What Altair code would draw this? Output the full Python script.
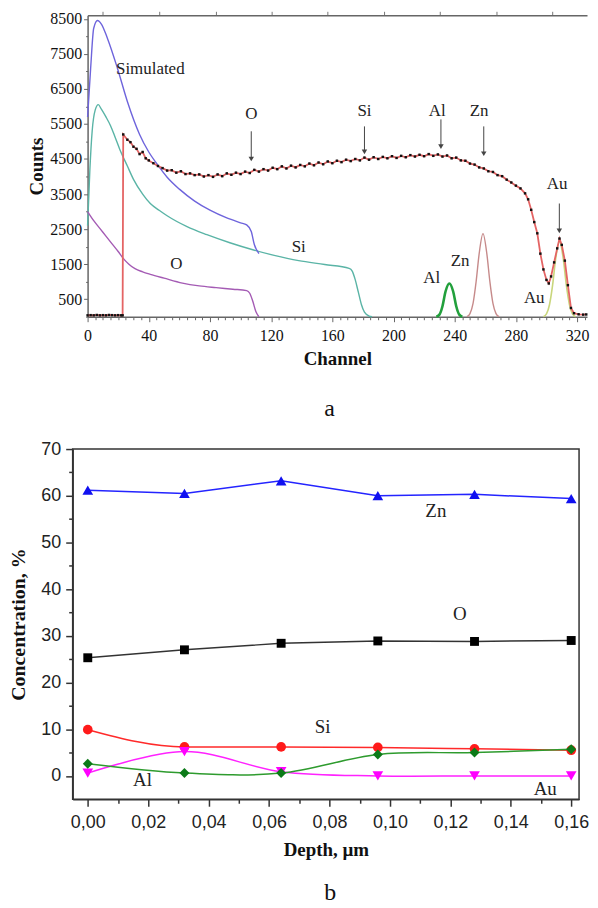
import altair as alt
import pandas as pd

# ---------------- panel a : RBS spectrum ----------------
exp_ch = [0, 2, 4, 6, 8, 10, 12, 14, 16, 18, 20, 22,
          22.9, 23.3,
          26, 28, 30, 32, 34, 36, 38, 40,
          43, 46, 49, 52, 55, 58, 61, 64, 67, 70,
          73, 76, 79, 82, 85, 88, 91, 94, 97, 100,
          103, 106, 109, 112, 115, 118, 121, 124, 127, 130,
          133, 136, 139, 142, 145, 148, 151, 154, 157, 160,
          163, 166, 169, 172, 175, 178, 181, 184, 187, 190,
          193, 196, 199, 202, 205, 208, 211, 214, 217, 220,
          223, 226, 229, 232, 235, 238, 241,
          244, 247, 250, 253, 256, 259, 262, 265, 268, 271, 274, 277, 280, 283, 286,
          288, 290, 292, 294, 296, 298, 300,
          301.5, 303, 305, 307, 308.5, 310, 312, 314, 316, 318,
          321, 324, 326]
exp_counts = [40, 45, 40, 50, 40, 45, 40, 50, 45, 40, 45, 40,
              40, 5200,
              5050, 4980, 4850, 4790, 4640, 4700, 4520, 4460,
              4380, 4300, 4240, 4170, 4180, 4110, 4150, 4070, 4090, 4040,
              4060, 4000, 4040, 3990, 4060, 4010, 4090, 4050, 4110, 4070,
              4140, 4100, 4190, 4140, 4210, 4170, 4250, 4210, 4290, 4230,
              4310, 4260, 4330, 4290, 4370, 4320, 4400, 4350, 4430, 4380,
              4450, 4410, 4480, 4440, 4500, 4460, 4540, 4480, 4550, 4500,
              4560, 4520, 4580, 4530, 4590, 4550, 4610, 4570, 4620, 4580,
              4640, 4590, 4630, 4570, 4600, 4520, 4540,
              4460, 4450, 4370, 4340, 4260, 4230, 4150, 4130, 4040, 4010, 3910, 3830, 3740, 3660, 3520,
              3350, 3050, 2700, 2380, 1800, 1350, 1050,
              950, 1150, 1550, 1950, 2230, 2050, 1600, 900, 250, 100,
              70, 60, 65]

sim_ch = [0, 2, 4, 6.5, 9, 13, 19.5, 26, 34, 40, 45, 52, 60, 70, 80, 91, 100, 104, 107, 109, 112]
sim_counts = [5700, 7090, 8230, 8450, 8350, 7940, 7090, 6140, 5200, 4700, 4380, 3980, 3640,
              3300, 3040, 2820, 2680, 2620, 2430, 2060, 1800]

si_ch = [0, 1.5, 3, 5, 7, 9, 12, 15, 18, 21, 26, 30, 36, 41, 47, 52, 65, 78, 93, 108,
         122, 138, 155, 171, 173, 175, 177, 179, 181, 184, 186]
si_counts = [2600, 4200, 5300, 5900, 6050, 5920, 5700, 5450, 5120, 4780, 4300, 3920, 3500,
             3230, 3030, 2880, 2570, 2340, 2110, 1910, 1750, 1600, 1490, 1380, 1300, 1050,
             700, 350, 130, 20, 0]

o_ch = [0, 4, 8, 12, 16, 20, 23, 27, 31, 36, 41, 50, 62, 73, 84, 95, 104, 106, 108, 110, 112]
o_counts = [3000, 2740, 2520, 2300, 2080, 1860, 1680, 1500, 1370, 1280, 1210, 1100, 960,
            880, 830, 785, 745, 670, 440, 150, 0]

al_ch = [228, 230, 232, 234, 236.5, 239, 241, 243, 245]
al_counts = [0, 60, 300, 720, 950, 720, 300, 60, 0]

zn_ch = [248, 250, 252, 254, 256, 258.5, 261, 263, 265, 267, 269]
zn_counts = [0, 90, 380, 1000, 1800, 2370, 1800, 1000, 380, 90, 0]

au_ch = [298, 300, 302, 304, 306, 308.5, 311, 313, 315, 317, 319]
au_counts = [0, 80, 350, 900, 1650, 2140, 1650, 900, 350, 80, 0]

lab_a_text = ["Simulated", "O", "Si", "Al", "Zn", "Au", "Si", "O", "Al", "Zn", "Au"]
lab_a_ch = [41, 107, 181, 228.6, 256, 307, 138, 58, 225, 243.5, 292]
lab_a_counts = [7060, 5780, 5860, 5860, 5860, 3800, 2000, 1510, 1090, 1600, 540]

arrow_ch = [107, 181, 231, 259, 308.4]
arrow_from = [5290, 5430, 5630, 5430, 3230]
arrow_to = [4500, 4700, 4850, 4650, 2450]

x_ticks_a = list(range(0, 326, 5))
y_ticks_a = list(range(0, 8501, 500))
top_ticks_a = [10, 47, 84, 120, 157, 194, 230, 267, 304]

# ---------------- panel b : depth profile ----------------
depth = [0.0, 0.032, 0.064, 0.096, 0.128, 0.16]
zn_conc = [61.2, 60.5, 63.2, 60.0, 60.3, 59.4]
o_conc = [25.3, 27.0, 28.4, 28.9, 28.8, 29.0]
si_conc = [9.9, 6.2, 6.2, 6.1, 5.8, 5.5]
al_conc = [2.6, 0.6, 0.6, 4.6, 5.0, 5.7]
au_conc = [0.6, 5.2, 0.9, 0.0, 0.0, 0.0]

lab_b_text = ["Zn", "O", "Si", "Al", "Au"]
lab_b_depth = [0.1152, 0.1231, 0.0777, 0.0181, 0.1514]
lab_b_conc = [56.8, 34.7, 10.4, -0.85, -2.8]

x_ticks_b = [i / 100 for i in range(0, 17)]
y_ticks_b = list(range(0, 71, 5))

SERIF = "Liberation Serif"
SANS = "Liberation Sans"

# ---------------- build panel a ----------------
xs_a = alt.Scale(domain=[0, 326.5], range=[15, 517], nice=False, zero=False)
ys_a = alt.Scale(domain=[0, 8600], nice=False)

xaxis_a = alt.Axis(
    values=x_ticks_a,
    labelExpr="datum.value % 40 === 0 ? datum.value : ''",
    tickSize={"condition": {"test": "datum.value % 40 === 0", "value": 5}, "value": 3},
    title="Channel", titleFont=SERIF, titleFontSize=19, titleFontWeight="bold",
    titleColor="#111", titlePadding=6,
    labelFont=SERIF, labelFontSize=16, labelColor="#111", labelPadding=6,
    labelFlush=False, labelOverlap=False,
    domainColor="#666", domainWidth=1.5, tickColor="#666", tickWidth=1, grid=False,
)
topaxis_a = alt.Axis(
    orient="top", values=top_ticks_a, labels=False, tickSize=4, title=None,
    domainColor="#666", domainWidth=1.5, tickColor="#777", tickWidth=1, grid=False,
)
yaxis_a = alt.Axis(
    values=y_ticks_a,
    labelExpr="datum.value % 1000 === 500 ? datum.value : ''",
    tickSize={"condition": {"test": "datum.value % 1000 === 500", "value": 4}, "value": 2},
    offset=-15,
    title="Counts", titleFont=SERIF, titleFontSize=19, titleFontWeight="bold",
    titleColor="#111", titlePadding=3,
    labelFont=SERIF, labelFontSize=16, labelColor="#111", labelPadding=2,
    labelOverlap=False,
    domainColor="#666", domainWidth=1.5, tickColor="#666", tickWidth=1, grid=False,
)


def enc_a(axis=None):
    return dict(
        x=alt.X("ch:Q", scale=xs_a, axis=axis),
        y=alt.Y("c:Q", scale=ys_a, axis=yaxis_a),
    )


def df_a(chs, cs):
    return pd.DataFrame({"ch": chs, "c": cs})


si_df = df_a(si_ch, si_counts)
l_si = alt.Chart(si_df).mark_line(color="#5ab4a6", strokeWidth=1.4, interpolate="monotone").encode(**enc_a(xaxis_a))
l_top = alt.Chart(si_df).mark_line(opacity=0).encode(**enc_a(topaxis_a))
l_sim = alt.Chart(df_a(sim_ch, sim_counts)).mark_line(color="#6e64dc", strokeWidth=1.4, interpolate="monotone").encode(**enc_a())
l_o = alt.Chart(df_a(o_ch, o_counts)).mark_line(color="#a45bb4", strokeWidth=1.4, interpolate="monotone").encode(**enc_a())
l_al = alt.Chart(df_a(al_ch, al_counts)).mark_line(color="#22a03c", strokeWidth=2.6, interpolate="monotone").encode(**enc_a())
l_zn = alt.Chart(df_a(zn_ch, zn_counts)).mark_line(color="#c68a8a", strokeWidth=1.4, interpolate="monotone").encode(**enc_a())
l_au = alt.Chart(df_a(au_ch, au_counts)).mark_line(color="#c9d67c", strokeWidth=1.6, interpolate="monotone").encode(**enc_a())
exp_df = df_a(exp_ch, exp_counts)
l_exp = alt.Chart(exp_df).mark_line(color="#e46464", strokeWidth=1.8).encode(**enc_a())
p_exp = alt.Chart(exp_df).mark_point(shape="square", filled=True, size=6, color="#111", opacity=1).encode(**enc_a())

arr_df = pd.DataFrame({"ch": arrow_ch, "c": arrow_from, "c2": arrow_to})
r_arr = alt.Chart(arr_df).mark_rule(color="#444", strokeWidth=1).encode(
    x=alt.X("ch:Q", scale=xs_a, axis=None), y=alt.Y("c:Q", scale=ys_a, axis=yaxis_a), y2="c2:Q")
h_arr = alt.Chart(pd.DataFrame({"ch": arrow_ch, "c": arrow_to})).mark_point(
    shape="triangle-down", filled=True, size=30, color="#444", opacity=1).encode(**enc_a())

t_a = alt.Chart(pd.DataFrame({"ch": lab_a_ch, "c": lab_a_counts, "t": lab_a_text})).mark_text(
    font=SERIF, fontSize=17, color="#222").encode(text="t:N", **enc_a())

top = alt.layer(
    l_si, l_top, l_sim, l_o, l_al, l_zn, l_au, l_exp, p_exp, r_arr, h_arr, t_a
).resolve_axis(x="independent").properties(
    width=517, height=303,
    title=alt.TitleParams("a", orient="bottom", anchor="start", frame="group", dx=253, offset=29,
                          font=SERIF, fontSize=24, fontWeight="normal", color="#111"),
)

# ---------------- build panel b ----------------
xs_b = alt.Scale(domain=[-0.005, 0.1626], nice=False, zero=False)
ys_b = alt.Scale(domain=[-5, 70], nice=False)

xaxis_b = alt.Axis(
    values=x_ticks_b,
    labelExpr="round(datum.value*100) % 2 === 0 ? replace(format(datum.value, '.2f'), '.', ',') : ''",
    tickSize={"condition": {"test": "round(datum.value*100) % 2 === 0", "value": 7}, "value": 4},
    title="Depth, µm", titleFont=SERIF, titleFontSize=19, titleFontWeight="bold",
    titleColor="#111", titlePadding=10,
    labelFont=SANS, labelFontSize=18, labelColor="#222", labelPadding=7,
    labelFlush=False, labelOverlap=False,
    domainColor="#333", domainWidth=1.5, tickColor="#333", tickWidth=1.5, grid=False,
)
yaxis_b = alt.Axis(
    values=y_ticks_b,
    labelExpr="datum.value % 10 === 0 ? datum.value : ''",
    tickSize={"condition": {"test": "datum.value % 10 === 0", "value": 7}, "value": 4},
    title="Concentration, %", titleFont=SERIF, titleFontSize=20, titleFontWeight="bold",
    titleColor="#111", titlePadding=12,
    labelFont=SANS, labelFontSize=18, labelColor="#222", labelPadding=5,
    labelOverlap=False,
    domainColor="#333", domainWidth=1.5, tickColor="#333", tickWidth=1.5, grid=False,
)


def enc_b():
    return dict(
        x=alt.X("d:Q", scale=xs_b, axis=xaxis_b),
        y=alt.Y("v:Q", scale=ys_b, axis=yaxis_b),
    )


def series_b(vals, line_color, mark_color, shape, size, interp):
    df = pd.DataFrame({"d": depth, "v": vals})
    ln = alt.Chart(df).mark_line(color=line_color, strokeWidth=1.5, interpolate=interp).encode(**enc_b())
    pt = alt.Chart(df).mark_point(shape=shape, filled=True, size=size, color=mark_color, opacity=1).encode(**enc_b())
    return [ln, pt]


layers_b = []
layers_b += series_b(zn_conc, "#2424ff", "#1010f0", "triangle-up", 115, "linear")
layers_b += series_b(o_conc, "#333333", "#000000", "square", 80, "linear")
layers_b += series_b(si_conc, "#ff2a2a", "#ff1a1a", "circle", 95, "monotone")
layers_b += series_b(au_conc, "#ff22ff", "#ff00ff", "triangle-down", 115, "cardinal")
layers_b += series_b(al_conc, "#2e9b2e", "#0c7a18", "diamond", 100, "cardinal")

t_b = alt.Chart(pd.DataFrame({"d": lab_b_depth, "v": lab_b_conc, "t": lab_b_text})).mark_text(
    font=SERIF, fontSize=19, color="#222").encode(text="t:N", **enc_b())
layers_b.append(t_b)

bottom = alt.layer(*layers_b).properties(
    width=509, height=352,
    view=alt.ViewBackground(stroke="#333", strokeWidth=1.5),
    title=alt.TitleParams("b", orient="bottom", anchor="start", frame="group", dx=253, offset=21,
                          font=SERIF, fontSize=24, fontWeight="normal", color="#111"),
)

chart = alt.vconcat(top, bottom, spacing=133, bounds="flush").properties(
    padding={"left": 0, "top": 0, "right": 0, "bottom": 0},
    background="white",
).configure_view(strokeWidth=0)

chart.save("out.html", embed_options={"renderer": "svg", "actions": False})
